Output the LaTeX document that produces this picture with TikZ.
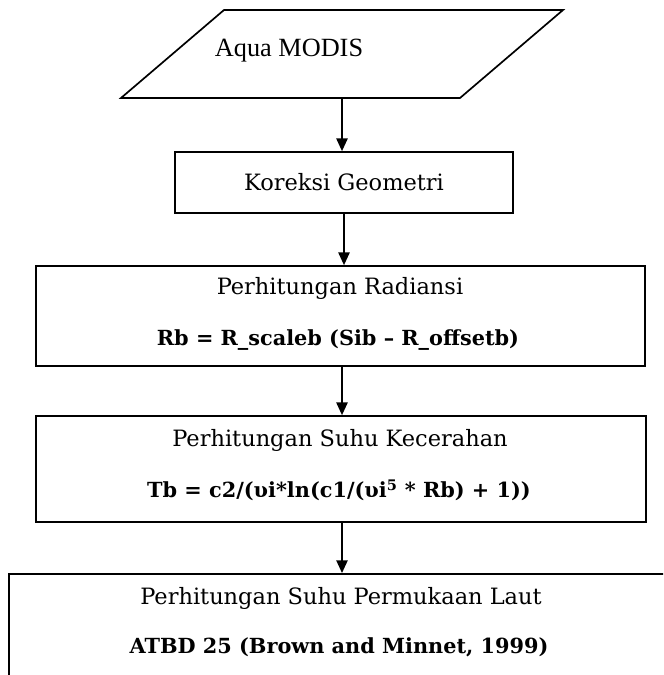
\documentclass[tikz,border=0pt]{standalone}
\usepackage{fontspec}
\setmainfont{DejaVu Serif}
\newfontfamily\timesfont{Liberation Serif}
\usetikzlibrary{arrows.meta}

\begin{document}
\begin{tikzpicture}[x=0.025cm,y=-0.025cm,
        box/.style={draw,rectangle,line width=1.2pt},
        plain/.style={font=\fontsize{16}{19}\selectfont},
        formula/.style={font=\bfseries\fontsize{14.8}{18}\selectfont},
        flow/.style={-{Triangle[width=8pt,length=9pt]},line width=1.1pt}]
        \useasboundingbox (0,0) rectangle (663,675);
        \clip (0,0) rectangle (663,675);
        % Define the input shape
        \draw[line width=1.2pt] (224,10) -- (563,10) -- (460,98) -- (121,98) -- cycle;
        \coordinate (modis) at (342,98);
        \node[font=\timesfont\fontsize{18.7}{22}\selectfont] (modislabel) at (289,51) {Aqua MODIS};
        % Define the nodes for the process
        \node[box,plain,minimum width=8.45cm,minimum height=1.525cm] (geo) at (344,182.5) {Koreksi Geometri};
        \node[box,minimum width=15.225cm,minimum height=2.5cm] (rad) at (340.5,316) {};
        \node[plain]   (radtitle) at (340,288) {Perhitungan Radiansi};
        \node[formula] (radeq)    at (338,340) {Rb = R\_scaleb (Sib – R\_offsetb)};
        \node[box,minimum width=15.25cm,minimum height=2.65cm] (bt) at (341,469) {};
        \node[plain]   (bttitle) at (340,440) {Perhitungan Suhu Kecerahan};
        \node[formula] (bteq)    at (339,490) {Tb = c2/(υi*ln(c1/(υi\textsuperscript{5} * Rb) + 1))};
        \node[box,minimum width=17cm,minimum height=3.5cm,anchor=north west] (sst) at (8,573) {};
        \node[plain]   (ssttitle) at (341,598) {Perhitungan Suhu Permukaan Laut};
        \node[formula] (ssteq)    at (339,647) {ATBD 25 (Brown and Minnet, 1999)};
        % Connect the nodes
        \draw[flow] (modis) -- (modis |- geo.north);
        \draw[flow] (geo.south) -- (geo.south |- rad.north);
        \draw[flow] (modis |- rad.south) -- (modis |- bt.north);
        \draw[flow] (modis |- bt.south) -- (modis |- sst.north);
\end{tikzpicture}
\end{document}
